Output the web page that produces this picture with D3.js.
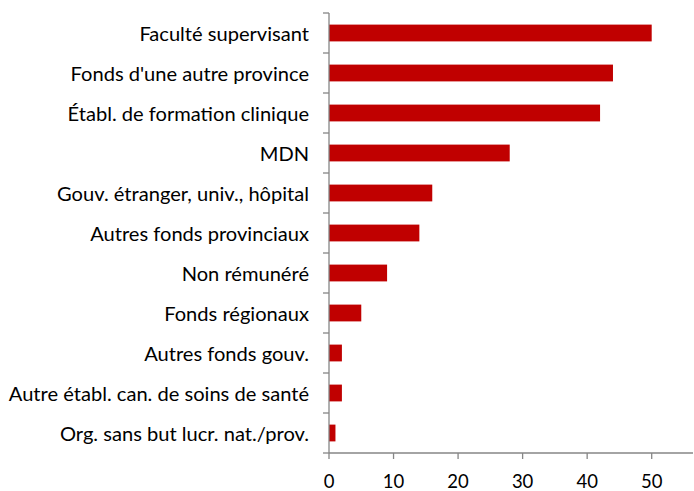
<!DOCTYPE html>
<html><head><meta charset="utf-8">
<script src="https://cdn.jsdelivr.net/npm/d3@7"></script>
<style>body{margin:0;background:#fff}svg{display:block}</style>
</head><body>
<script>
const categories = ["Faculté supervisant","Fonds d'une autre province","Établ. de formation clinique","MDN","Gouv. étranger, univ., hôpital","Autres fonds provinciaux","Non rémunéré","Fonds régionaux","Autres fonds gouv.","Autre établ. can. de soins de santé","Org. sans but lucr. nat./prov."];
const values = [50,44,42,28,16,14,9,5,2,2,1];
const xTicks = [0,10,20,30,40,50];

const W=694,H=491;
const svg=d3.select("body").append("svg").attr("width",W).attr("height",H);
const x=d3.scaleLinear().domain([0,56.4]).range([329,693]);
const y=d3.scaleBand().domain(categories).range([13,453]).paddingInner(0.58).paddingOuter(0.29);
const band=d3.scaleBand().domain(categories).range([13,453]);
const font="Lato, 'Open Sans', sans-serif";
const axisColor="#868686";

svg.selectAll("rect.bar").data(categories).enter().append("rect")
 .attr("x",x(0)).attr("y",d=>y(d)).attr("width",(d,i)=>x(values[i])-x(0)).attr("height",y.bandwidth())
 .attr("fill","#C00000");

// y axis
const g=svg.append("g");
g.append("line").attr("x1",x(0)).attr("x2",x(0)).attr("y1",13).attr("y2",453).attr("stroke",axisColor).attr("stroke-width",1.3);
const bounds=categories.map(c=>band(c)).concat([453]);
g.selectAll("line.yt").data(bounds).enter().append("line")
 .attr("x1",x(0)-6).attr("x2",x(0)).attr("y1",d=>d).attr("y2",d=>d).attr("stroke",axisColor).attr("stroke-width",1.3);
g.selectAll("text.yl").data(categories).enter().append("text")
 .attr("x",309).attr("y",d=>band(d)+band.bandwidth()/2+7.5)
 .attr("text-anchor","end").attr("font-family",font).attr("font-size",20.1).attr("fill","#000").text(d=>d);

// x axis
g.append("line").attr("x1",x(0)).attr("x2",693).attr("y1",453).attr("y2",453).attr("stroke",axisColor).attr("stroke-width",1.3);
g.selectAll("line.xt").data(xTicks).enter().append("line")
 .attr("x1",d=>x(d)).attr("x2",d=>x(d)).attr("y1",453).attr("y2",459).attr("stroke",axisColor).attr("stroke-width",1.3);
g.selectAll("text.xl").data(xTicks).enter().append("text")
 .attr("x",d=>x(d)).attr("y",488).attr("text-anchor","middle")
 .attr("font-family",font).attr("font-size",18.5).attr("fill","#000").text(d=>d);
</script>
</body></html>
